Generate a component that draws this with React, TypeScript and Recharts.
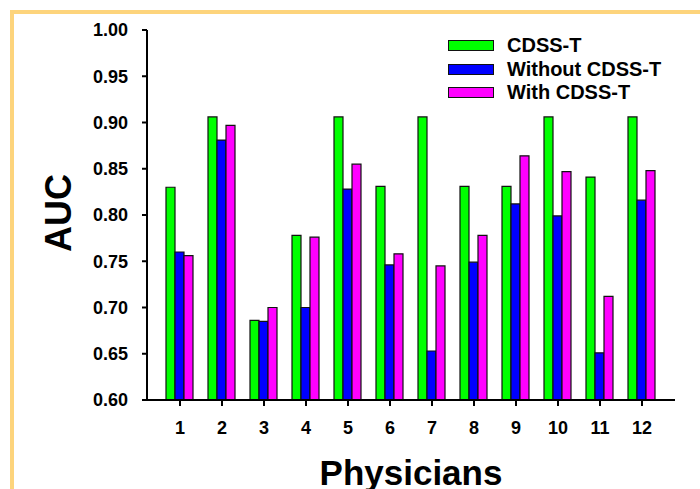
import { BarChart, Bar, XAxis, YAxis, Legend } from 'recharts';

const physicians = ['1', '2', '3', '4', '5', '6', '7', '8', '9', '10', '11', '12'];
const cdssT = [0.83, 0.906, 0.686, 0.778, 0.906, 0.831, 0.906, 0.831, 0.831, 0.906, 0.841, 0.906];
const withoutCdssT = [0.76, 0.881, 0.685, 0.7, 0.828, 0.746, 0.653, 0.749, 0.812, 0.799, 0.651, 0.816];
const withCdssT = [0.756, 0.897, 0.7, 0.776, 0.855, 0.758, 0.745, 0.778, 0.864, 0.847, 0.712, 0.848];
const yTicks = [0.6, 0.65, 0.7, 0.75, 0.8, 0.85, 0.9, 0.95, 1.0];

const seriesInfo = [
  { key: 'cdss', name: 'CDSS-T', color: '#00ff00' },
  { key: 'without', name: 'Without CDSS-T', color: '#0000ff' },
  { key: 'with', name: 'With CDSS-T', color: '#ff00ff' }
];

const data = physicians.map((p, i) => ({
  name: p,
  cdss: cdssT[i],
  without: withoutCdssT[i],
  with: withCdssT[i]
}));

const font = '"Liberation Sans", Arial, Helvetica, sans-serif';

function LegendBox() {
  return (
    <div style={{ fontFamily: font, fontWeight: 'bold', fontSize: 20, color: '#000' }}>
      {seriesInfo.map((s) => (
        <div key={s.key} style={{ display: 'flex', alignItems: 'center', height: 23.5 }}>
          <div
            style={{
              width: 44,
              height: 9,
              background: s.color,
              border: '1px solid #111',
              marginRight: 13
            }}
          />
          <span style={{ lineHeight: '23.5px' }}>{s.name}</span>
        </div>
      ))}
    </div>
  );
}

export default function App() {
  return (
    <div
      style={{
        position: 'absolute',
        left: 0,
        top: 0,
        width: 700,
        height: 489,
        overflow: 'hidden',
        background: '#fff'
      }}
    >
      <div
        style={{
          position: 'absolute',
          left: 10,
          top: 10,
          width: 800,
          height: 600,
          border: '4px solid #fdd47c'
        }}
      />
      <div style={{ position: 'absolute', left: 0, top: 0 }}>
        <BarChart
          width={700}
          height={489}
          data={data}
          margin={{ top: 30, right: 25, bottom: 0, left: 0 }}
          barCategoryGap={7}
          barGap={0}
        >
          <XAxis
            dataKey="name"
            height={89}
            padding={{ left: 12, right: 12 }}
            stroke="#000"
            strokeWidth={2}
            tickSize={6}
            tickMargin={15}
            tick={{ fill: '#000', fontSize: 18, fontWeight: 'bold', fontFamily: font }}
            label={{
              value: 'Physicians',
              position: 'insideBottom',
              offset: 4,
              fill: '#000',
              fontSize: 35,
              fontWeight: 'bold',
              fontFamily: font
            }}
          />
          <XAxis
            xAxisId="top"
            orientation="top"
            dataKey="name"
            height={0}
            tick={false}
            tickLine={false}
            stroke="#000"
            strokeWidth={2}
          />
          <YAxis
            width={147}
            domain={[0.6, 1.0]}
            ticks={yTicks}
            allowDataOverflow
            interval={0}
            tickFormatter={(v: number) => v.toFixed(2)}
            stroke="#000"
            strokeWidth={2}
            tickSize={5}
            tickMargin={14}
            tick={{ fill: '#000', fontSize: 18, fontWeight: 'bold', fontFamily: font }}
            label={{
              content: () => (
                <text
                  x={71}
                  y={213}
                  transform="rotate(-90 71 213)"
                  textAnchor="middle"
                  fill="#000"
                  fontSize={36}
                  fontWeight="bold"
                  fontFamily={font}
                >
                  AUC
                </text>
              )
            }}
          />
          <YAxis
            yAxisId="right"
            orientation="right"
            width={0}
            domain={[0.6, 1.0]}
            tick={false}
            tickLine={false}
            stroke="#000"
            strokeWidth={2}
          />
          <Legend
            layout="horizontal"
            verticalAlign="middle"
            align="center"
            content={() => <LegendBox />}
            wrapperStyle={{ top: 34, left: 448, width: 225, height: 72 }}
          />
          {seriesInfo.map((s) => (
            <Bar
              key={s.key}
              dataKey={s.key}
              name={s.name}
              fill={s.color}
              stroke="#111"
              strokeWidth={1.2}
              isAnimationActive={false}
            />
          ))}
        </BarChart>
      </div>
    </div>
  );
}
